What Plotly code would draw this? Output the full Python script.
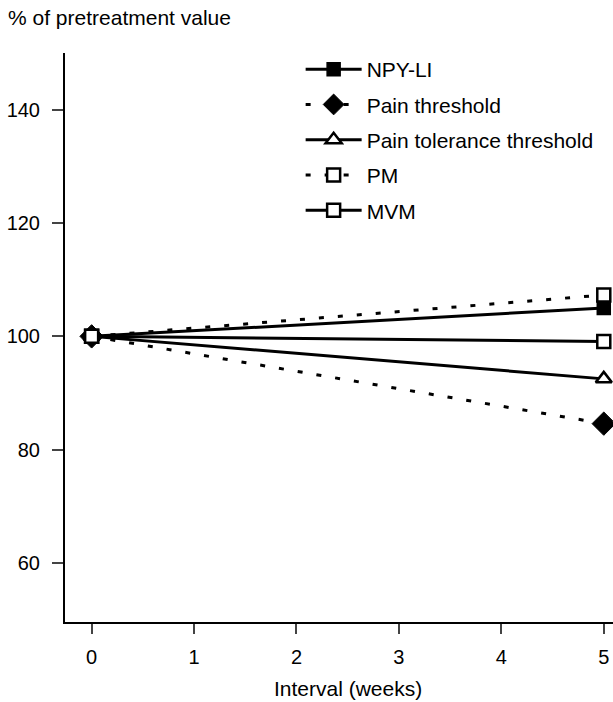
import plotly.graph_objects as go

weeks = [0, 5]
npy_li = [100, 105.0]
pain_threshold = [100, 84.6]
pain_tolerance = [100, 92.5]
pm = [100, 107.3]
mvm = [100, 99.1]

y_ticks = [60, 80, 100, 120, 140]
x_ticks = [0, 1, 2, 3, 4, 5]

FONT = "Liberation Sans, Arial, sans-serif"
DOT = "5px,14px"
LW = 3

fig = go.Figure()
fig.add_trace(go.Scatter(x=weeks, y=npy_li, name="NPY-LI", mode="lines+markers", legendgroup="a",
                         line=dict(color="black", width=LW),
                         marker=dict(symbol="square", size=13, color="black",
                                     line=dict(color="black", width=1.5))))
fig.add_trace(go.Scatter(x=weeks, y=pain_threshold, name="Pain threshold", mode="lines+markers", legendgroup="b",
                         line=dict(color="black", width=LW, dash=DOT),
                         marker=dict(symbol="diamond", size=18, color="black",
                                     line=dict(color="black", width=1))))
fig.add_trace(go.Scatter(x=weeks, y=pain_tolerance, name="Pain tolerance threshold", mode="lines+markers", legendgroup="c",
                         line=dict(color="black", width=LW),
                         marker=dict(symbol="triangle-up", size=14, color="white",
                                     line=dict(color="black", width=2.5))))
fig.add_trace(go.Scatter(x=weeks, y=pm, name="PM", mode="lines+markers", legendgroup="d",
                         line=dict(color="black", width=LW, dash=DOT),
                         marker=dict(symbol="square", size=13, color="white",
                                     line=dict(color="black", width=2.5))))
fig.add_trace(go.Scatter(x=weeks, y=mvm, name="MVM", mode="lines+markers", legendgroup="e",
                         line=dict(color="black", width=LW),
                         marker=dict(symbol="square", size=13, color="white",
                                     line=dict(color="black", width=2.5))))
fig.update_traces(cliponaxis=False)

fig.update_layout(
    width=613, height=702,
    margin=dict(l=65, r=0, t=53, b=80),
    paper_bgcolor="white", plot_bgcolor="white",
    font=dict(family=FONT, size=20, color="black"),
    showlegend=True,
    legend=dict(x=0.43, y=1.007, xanchor="left", yanchor="top",
                traceorder="grouped", tracegroupgap=5,
                bgcolor="rgba(0,0,0,0)", font=dict(size=21), itemwidth=56),
    title=dict(text="% of pretreatment value", xref="container", yref="container",
               x=8/613, y=1-18/702, xanchor="left", yanchor="middle",
               font=dict(size=21, family=FONT)),
    annotations=[dict(text="Interval (weeks)", x=2.5, xref="x", y=-66/569, yref="paper",
                      xanchor="center", yanchor="middle", showarrow=False,
                      font=dict(size=21, family=FONT))],
)
fig.update_xaxes(range=[-0.26, 5.09], tickvals=x_ticks, ticks="outside", ticklen=10,
                 tickwidth=1.5, showline=True, linewidth=2, linecolor="black",
                 showgrid=False, zeroline=False, automargin=False, ticklabelstandoff=6)
fig.update_yaxes(range=[49.6, 150], tickvals=y_ticks, ticks="outside", ticklen=11,
                 tickwidth=1.5, showline=True, linewidth=2, linecolor="black",
                 showgrid=False, zeroline=False, automargin=False, ticklabelstandoff=8)

fig.write_html("out.html", config={"displayModeBar": False},
               post_script="document.body.style.margin='0';")
